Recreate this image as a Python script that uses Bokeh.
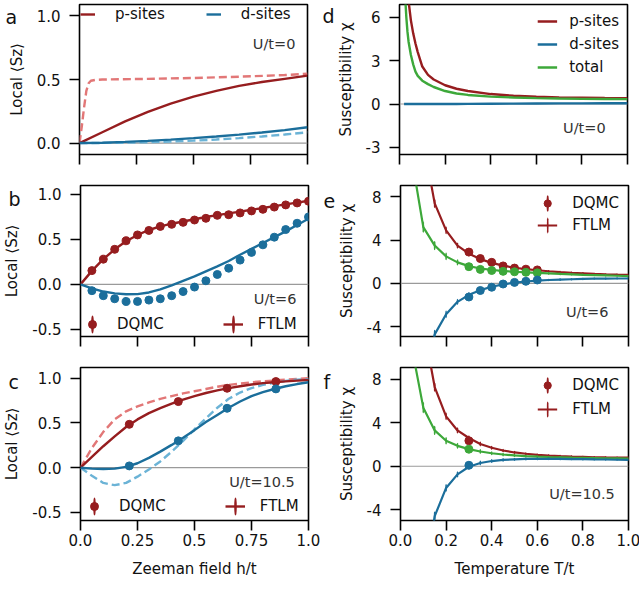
from bokeh.plotting import figure
from bokeh.layouts import column, row
from bokeh.models import (Range1d, Span, Label, Legend, LegendItem, FixedTicker,
                          PrintfTickFormatter)
from bokeh.embed import file_html
from bokeh.resources import INLINE

FONT = "DejaVu Sans"
RED = "#961d1f"
BLUE = "#1b6e9b"
LRED = "#e27777"
LBLUE = "#6bb3d6"
GREEN = "#3da83a"
TXT = "#111111"
GREY = "#333333"

# ---------------- data: panel a (U/t=0) ----------------
h_a = [0.0, 0.1, 0.2, 0.3, 0.4, 0.5, 0.6, 0.7, 0.8, 0.9, 1.0]
a_p_line = [0.0, 0.085, 0.17, 0.245, 0.31, 0.365, 0.41, 0.45, 0.48, 0.505, 0.53]
a_d_line = [0.0, 0.003, 0.009, 0.017, 0.027, 0.039, 0.052, 0.066, 0.083, 0.102, 0.124]
a_d_dash = [0.0, 0.001, 0.003, 0.007, 0.012, 0.019, 0.028, 0.039, 0.052, 0.067, 0.085]
h_a_dash = [0.0, 0.01, 0.02, 0.03, 0.04, 0.05, 0.07, 0.1, 0.3, 0.5, 0.7, 0.9, 1.0]
a_p_dash = [0.0, 0.13, 0.28, 0.41, 0.47, 0.49, 0.497, 0.5, 0.505, 0.512, 0.522, 0.535, 0.545]

# ---------------- data: panel b (U/t=6) ----------------
h_line = [0.0, 0.05, 0.1, 0.15, 0.2, 0.25, 0.3, 0.35, 0.4, 0.45, 0.5,
          0.55, 0.6, 0.65, 0.7, 0.75, 0.8, 0.85, 0.9, 0.95, 1.0]
b_p_line = [0.0, 0.15, 0.28, 0.39, 0.48, 0.55, 0.605, 0.645, 0.675, 0.7, 0.725,
            0.75, 0.77, 0.79, 0.81, 0.83, 0.85, 0.87, 0.89, 0.91, 0.93]
b_d_line = [0.0, -0.045, -0.08, -0.1, -0.11, -0.108, -0.09, -0.055, -0.01, 0.04, 0.09,
            0.145, 0.2, 0.26, 0.33, 0.395, 0.46, 0.525, 0.59, 0.66, 0.73]
h_b_dqmc = [0.05, 0.1, 0.15, 0.2, 0.25, 0.3, 0.35, 0.4, 0.45, 0.5,
            0.55, 0.6, 0.65, 0.7, 0.75, 0.8, 0.85, 0.9, 0.95, 1.0]
b_p_dqmc = [0.153, 0.28, 0.39, 0.485, 0.55, 0.6, 0.645, 0.668, 0.69, 0.716,
            0.735, 0.768, 0.775, 0.795, 0.817, 0.835, 0.86, 0.884, 0.906, 0.925]
b_d_dqmc = [-0.07, -0.126, -0.16, -0.19, -0.19, -0.175, -0.16, -0.126, -0.08, -0.03,
            0.04, 0.11, 0.18, 0.27, 0.355, 0.44, 0.525, 0.61, 0.68, 0.75]
b_p_err = [0.01, 0.012, 0.012, 0.014, 0.014, 0.015, 0.015, 0.015, 0.016, 0.016,
           0.016, 0.016, 0.016, 0.016, 0.016, 0.016, 0.016, 0.016, 0.016, 0.016]

# ---------------- data: panel c (U/t=10.5) ----------------
c_p_line = [0.0, 0.12, 0.24, 0.35, 0.455, 0.54, 0.61, 0.665, 0.715, 0.76, 0.8,
            0.835, 0.865, 0.89, 0.91, 0.93, 0.945, 0.955, 0.965, 0.973, 0.98]
c_p_dash = [0.0, 0.22, 0.4, 0.54, 0.63, 0.685, 0.73, 0.77, 0.8, 0.83, 0.855,
            0.88, 0.905, 0.925, 0.94, 0.955, 0.965, 0.975, 0.985, 0.993, 1.0]
c_d_line = [0.0, -0.01, -0.015, -0.01, 0.01, 0.05, 0.11, 0.18, 0.255, 0.335, 0.42,
            0.51, 0.59, 0.67, 0.74, 0.8, 0.845, 0.88, 0.91, 0.935, 0.955]
c_d_dash = [0.0, -0.09, -0.17, -0.195, -0.17, -0.1, -0.02, 0.07, 0.18, 0.3, 0.43,
            0.55, 0.67, 0.77, 0.84, 0.89, 0.925, 0.95, 0.97, 0.985, 0.99]
h_c_dqmc = [0.214, 0.429, 0.643, 0.857]
c_p_dqmc = [0.485, 0.739, 0.888, 0.963]
c_d_dqmc = [0.02, 0.3, 0.664, 0.881]
c_p_err = [0.015, 0.015, 0.012, 0.01]

# ---------------- data: panel d (U/t=0) ----------------
T_d = [0.02, 0.025, 0.03, 0.035, 0.04, 0.05, 0.06, 0.07, 0.08, 0.1, 0.125,
       0.15, 0.2, 0.25, 0.3, 0.4, 0.5, 0.6, 0.7, 0.8, 0.9, 1.0]
d_red = [16.0, 12.5, 9.7, 8.2, 7.1, 5.8, 4.9, 4.2, 3.6, 2.6, 2.02,
         1.7, 1.3, 1.06, 0.9, 0.69, 0.57, 0.5, 0.46, 0.44, 0.42, 0.41]
d_green = [9.5, 7.4, 6.0, 5.0, 4.3, 3.4, 2.75, 2.25, 1.95, 1.62, 1.38,
           1.18, 0.9, 0.73, 0.63, 0.51, 0.45, 0.41, 0.38, 0.36, 0.35, 0.34]
d_blue = [0.0, 0.0, 0.0, 0.0, 0.0, 0.0, 0.0, 0.0, 0.0, 0.0, 0.0,
          0.0, 0.002, 0.005, 0.01, 0.02, 0.03, 0.038, 0.044, 0.048, 0.051, 0.053]

# ---------------- data: panels e, f (FTLM + DQMC) ----------------
T_ftlm = [0.05, 0.1, 0.15, 0.2, 0.25, 0.3, 0.35, 0.4, 0.45, 0.5,
          0.55, 0.6, 0.65, 0.7, 0.75, 0.8, 0.85, 0.9, 0.95, 1.0]
ftlm_err = [0.6, 0.45, 0.35, 0.28, 0.22, 0.18, 0.15, 0.12, 0.1, 0.08,
            0.07, 0.06, 0.05, 0.05, 0.04, 0.04, 0.03, 0.03, 0.03, 0.03]
e_red = [30.0, 13.1, 7.4, 4.9, 3.5, 2.75, 2.25, 1.9, 1.65, 1.45,
         1.33, 1.22, 1.13, 1.05, 0.99, 0.94, 0.89, 0.85, 0.82, 0.8]
e_green = [11.5, 5.2, 3.5, 2.5, 1.95, 1.6, 1.38, 1.25, 1.15, 1.08,
           1.03, 0.98, 0.93, 0.88, 0.84, 0.8, 0.77, 0.74, 0.71, 0.68]
e_blue = [-25.0, -9.0, -4.7, -2.85, -1.7, -1.05, -0.62, -0.3, -0.08, 0.08,
          0.18, 0.26, 0.32, 0.36, 0.39, 0.42, 0.44, 0.45, 0.46, 0.46]
T_e_dqmc = [0.3, 0.35, 0.4, 0.45, 0.5, 0.55, 0.6]
e_red_dqmc = [2.9, 2.3, 1.95, 1.62, 1.42, 1.32, 1.25]
e_green_dqmc = [1.55, 1.3, 1.2, 1.12, 1.08, 1.03, 0.98]
e_blue_dqmc = [-1.25, -0.65, -0.35, -0.05, 0.1, 0.2, 0.32]
e_dqmc_err = [0.15, 0.12, 0.1, 0.08, 0.07, 0.06, 0.05]

f_red = [30.0, 13.0, 7.3, 4.6, 3.3, 2.6, 2.05, 1.7, 1.45, 1.27,
         1.15, 1.05, 0.98, 0.93, 0.89, 0.86, 0.83, 0.81, 0.8, 0.79]
f_green = [10.9, 5.4, 3.3, 2.35, 1.88, 1.58, 1.36, 1.2, 1.08, 1.0,
           0.94, 0.89, 0.85, 0.82, 0.79, 0.77, 0.75, 0.73, 0.72, 0.7]
f_blue = [-25.0, -11.0, -4.6, -2.0, -0.75, -0.05, 0.3, 0.48, 0.58, 0.64,
          0.67, 0.68, 0.68, 0.67, 0.66, 0.65, 0.63, 0.62, 0.6, 0.58]
T_f_dqmc = [0.3]
f_red_dqmc = [2.35]
f_green_dqmc = [1.57]
f_blue_dqmc = [0.09]
f_dqmc_err = [0.15]

# ---------------- ticks ----------------
x_ticks_h = [0.0, 0.25, 0.5, 0.75, 1.0]
x_labels_h = ["0.0", "0.25", "0.5", "0.75", "1.0"]
x_ticks_T = [0.0, 0.2, 0.4, 0.6, 0.8, 1.0]
x_labels_T = ["0.0", "0.2", "0.4", "0.6", "0.8", "1.0"]

BAR_W = 0.0004  # error bars drawn as zero-width ellipses (vertical bars)


def base(fw, fh, bl, br, bt, bb, yr, yticks, yfmt, xticks, xlabels,
         show_xlabels, xlabel, ylabel):
    p = figure(frame_width=fw, frame_height=fh, x_range=Range1d(0, 1),
               y_range=Range1d(yr[0], yr[1]), output_backend="svg",
               toolbar_location=None, min_border_left=bl, min_border_right=br,
               min_border_top=bt, min_border_bottom=bb)
    p.xgrid.visible = False
    p.ygrid.visible = False
    p.outline_line_color = "black"
    p.outline_line_width = 1.6
    p.outline_line_alpha = 1.0
    p.border_fill_color = "white"
    p.background_fill_color = "white"
    xa, ya = p.xaxis[0], p.yaxis[0]
    for ax in (xa, ya):
        ax.axis_line_color = None
        ax.major_tick_line_color = "black"
        ax.major_tick_line_width = 1.6
        ax.major_tick_out = 10
        ax.major_tick_in = 0
        ax.minor_tick_line_color = None
        ax.major_label_text_font = FONT
        ax.major_label_text_font_size = "15px"
        ax.major_label_text_color = TXT
        ax.axis_label_text_font = FONT
        ax.axis_label_text_font_size = "15px"
        ax.axis_label_text_font_style = "normal"
        ax.axis_label_text_color = TXT
    ya.ticker = FixedTicker(ticks=yticks)
    ya.formatter = PrintfTickFormatter(format=yfmt)
    ya.major_label_standoff = 9
    ya.axis_label_standoff = 8
    ya.axis_label = ylabel
    xa.ticker = FixedTicker(ticks=xticks)
    xa.major_label_overrides = {t: l for t, l in zip(xticks, xlabels)}
    if show_xlabels:
        xa.major_label_standoff = 3
        xa.axis_label = xlabel
        xa.axis_label_standoff = 11
    else:
        xa.major_label_standoff = 0
        xa.major_label_text_font_size = "1px"
        xa.major_label_text_color = None
    p.add_layout(Span(location=0, dimension="width", line_color="#9a9a9a",
                      line_width=1.2, level="underlay"))
    return p


def note(p, x, y, text):
    p.add_layout(Label(x=x, y=y, text=text, text_font=FONT, text_font_size="14.5px",
                       text_align="right", text_baseline="middle", text_color=GREY))


def letter(p, x, y, text):
    # placed in the (otherwise empty) right side panel so it is not clipped by the frame
    p.add_layout(Label(x=x, y=y, text=text, text_font=FONT, text_font_size="19px",
                       text_align="left", text_baseline="alphabetic", text_color=TXT),
                 "right")


def legend(p, items, location, orientation, margin, padding, spacing, gw, gh, standoff):
    lg = Legend(items=items, location=location, orientation=orientation, margin=margin,
                padding=padding, spacing=spacing, glyph_width=gw, glyph_height=gh,
                label_height=gh, label_standoff=standoff, border_line_color=None,
                background_fill_alpha=0, label_text_font=FONT,
                label_text_font_size="15px", label_text_color=TXT)
    p.add_layout(lg)


def errbars(p, xs, ys, errs, col, lw=1.6):
    return p.ellipse(x=xs, y=ys, width=[BAR_W] * len(xs),
                     height=[2 * e for e in errs], fill_color=None,
                     line_color=col, line_width=lw)


LW = 2.4
FW = 228
BL_L, BR_L = 79, 12
BL_R, BR_R = 80, 12

# ---------------- panel a ----------------
pa = base(FW, 150, BL_L, BR_L, 4, 26, (-0.09, 1.09), [0.0, 0.5, 1.0], "%.1f",
          x_ticks_h, x_labels_h, False, None, "Local ⟨Sz⟩")
pa.line(h_a_dash, a_p_dash, color=LRED, line_width=LW, line_dash="8 4")
pa.line(h_a, a_d_dash, color=LBLUE, line_width=LW, line_dash="8 4")
ra_p = pa.line(h_a, a_p_line, color=RED, line_width=LW)
ra_d = pa.line(h_a, a_d_line, color=BLUE, line_width=LW)
legend(pa, [LegendItem(label="p-sites", renderers=[ra_p]),
            LegendItem(label="d-sites", renderers=[ra_d])],
       "top_left", "horizontal", 1, 2, 41, 15, 16, 20)
note(pa, 0.947, 0.776, "U/t=0")
letter(pa, -0.325, 0.989, "a")

# ---------------- panel b ----------------
pb = base(FW, 151, BL_L, BR_L, 5, 30, (-0.58, 1.10), [-0.5, 0.0, 0.5, 1.0], "%.1f",
          x_ticks_h, x_labels_h, False, None, "Local ⟨Sz⟩")
rb_pl = pb.line(h_line, b_p_line, color=RED, line_width=LW)
pb.line(h_line, b_d_line, color=BLUE, line_width=LW)
rb_err = errbars(pb, h_b_dqmc, b_p_dqmc, b_p_err, RED, 2.0)
rb_pd = pb.scatter(h_b_dqmc, b_p_dqmc, marker="circle", size=8, color=RED)
pb.scatter(h_b_dqmc, b_d_dqmc, marker="circle", size=8, color=BLUE)
legend(pb, [LegendItem(label="DQMC", renderers=[rb_err, rb_pd]),
            LegendItem(label="FTLM", renderers=[rb_pl, rb_err])],
       "bottom_left", "horizontal", 2, 2, 59, 20, 20, 15)
note(pb, 0.947, -0.16, "U/t=6")
letter(pb, -0.316, 0.955, "b")

# ---------------- panel c ----------------
pc = base(FW, 153, BL_L, BR_L, 1, 60, (-0.59, 1.12), [-0.5, 0.0, 0.5, 1.0], "%.1f",
          x_ticks_h, x_labels_h, True, "Zeeman field h/t", "Local ⟨Sz⟩")
pc.line(h_line, c_p_dash, color=LRED, line_width=LW, line_dash="8 4")
pc.line(h_line, c_d_dash, color=LBLUE, line_width=LW, line_dash="8 4")
rc_pl = pc.line(h_line, c_p_line, color=RED, line_width=LW)
pc.line(h_line, c_d_line, color=BLUE, line_width=LW)
rc_err = errbars(pc, h_c_dqmc, c_p_dqmc, c_p_err, RED, 2.0)
rc_pd = pc.scatter(h_c_dqmc, c_p_dqmc, marker="circle", size=8, color=RED)
pc.scatter(h_c_dqmc, c_d_dqmc, marker="circle", size=8, color=BLUE)
legend(pc, [LegendItem(label="DQMC", renderers=[rc_err, rc_pd]),
            LegendItem(label="FTLM", renderers=[rc_pl, rc_err])],
       "bottom_left", "horizontal", 4, 2, 59, 20, 20, 15)
note(pc, 0.94, -0.157, "U/t=10.5")
letter(pc, -0.316, 0.963, "c")

# ---------------- panel d ----------------
pd_ = base(FW, 150, BL_R, BR_R, 4, 26, (-3.5, 6.9), [-3, 0, 3, 6], "%d",
           x_ticks_T, x_labels_T, False, None, "Susceptibility χ")
rd_r = pd_.line(T_d, d_red, color=RED, line_width=LW)
rd_g = pd_.line(T_d, d_green, color=GREEN, line_width=LW)
rd_b = pd_.line(T_d, d_blue, color=BLUE, line_width=LW)
legend(pd_, [LegendItem(label="p-sites", renderers=[rd_r]),
             LegendItem(label="d-sites", renderers=[rd_b]),
             LegendItem(label="total", renderers=[rd_g])],
       "top_right", "vertical", 8, 0, 5, 20, 18, 12)
note(pd_, 0.904, -1.63, "U/t=0")
letter(pd_, -0.338, 6.09, "d")


def susc_panel(p, reds, greens, blues, T_q, red_q, green_q, blue_q, q_err):
    out = {}
    for vals, q, col in ((reds, red_q, RED), (greens, green_q, GREEN), (blues, blue_q, BLUE)):
        rl = p.line(T_ftlm, vals, color=col, line_width=2.2)
        rfe = errbars(p, T_ftlm, vals, ftlm_err, col, 1.6)
        rqe = errbars(p, T_q, q, q_err, col, 2.0)
        rq = p.scatter(T_q, q, marker="circle", size=8, color=col)
        out[col] = (rl, rfe, rq, rqe)
    rl, rfe, rq, rqe = out[RED]
    return [LegendItem(label="DQMC", renderers=[rqe, rq]),
            LegendItem(label="FTLM", renderers=[rl, rfe])]


# ---------------- panel e ----------------
pe = base(FW, 151, BL_R, BR_R, 5, 30, (-4.9, 9.05), [-4, 0, 4, 8], "%d",
          x_ticks_T, x_labels_T, False, None, "Susceptibility χ")
items_e = susc_panel(pe, e_red, e_green, e_blue, T_e_dqmc, e_red_dqmc, e_green_dqmc,
                     e_blue_dqmc, e_dqmc_err)
legend(pe, items_e, "top_right", "vertical", 9, 0, 4, 20, 18, 15)
note(pe, 0.912, -2.67, "U/t=6")
letter(pe, -0.338, 7.58, "e")

# ---------------- panel f ----------------
pf = base(FW, 153, BL_R, BR_R, 1, 60, (-5.0, 9.1), [-4, 0, 4, 8], "%d",
          x_ticks_T, x_labels_T, True, "Temperature T/t", "Susceptibility χ")
items_f = susc_panel(pf, f_red, f_green, f_blue, T_f_dqmc, f_red_dqmc, f_green_dqmc,
                     f_blue_dqmc, f_dqmc_err)
legend(pf, items_f, "top_right", "vertical", 9, 0, 6, 20, 18, 15)
note(pf, 0.94, -2.56, "U/t=10.5")
letter(pf, -0.338, 7.72, "f")

layout = column(row(pa, pd_), row(pb, pe), row(pc, pf))

open("out.html", "w").write(file_html(layout, INLINE))
